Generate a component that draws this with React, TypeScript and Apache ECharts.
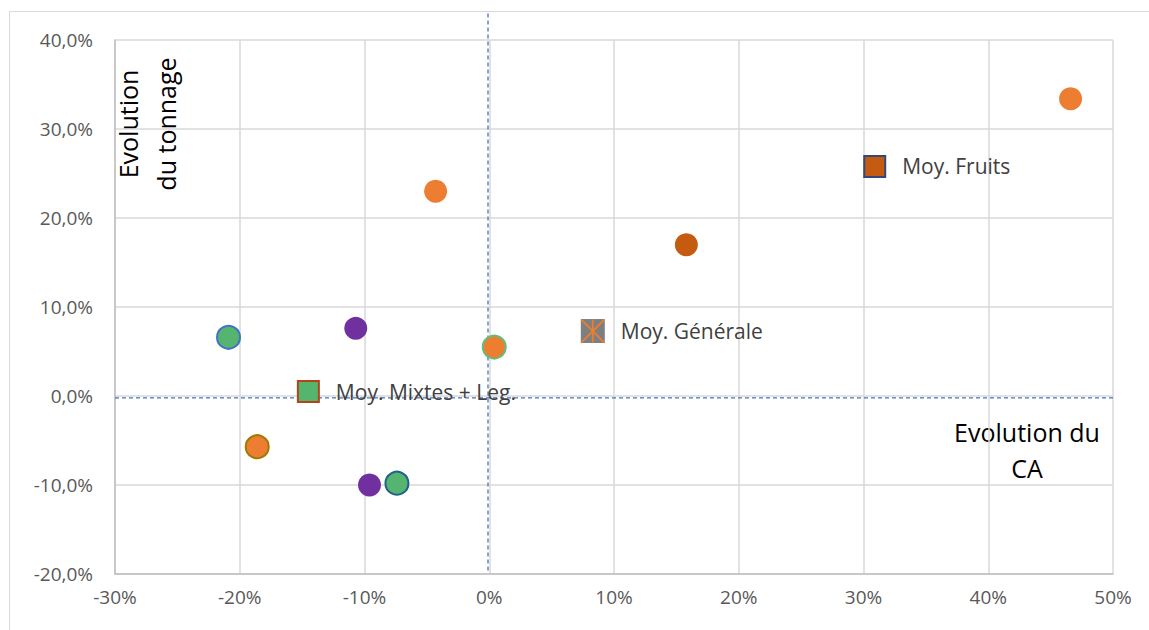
import React, { useEffect, useRef } from "react";
import * as echarts from "echarts";

// ---- Data ----
const xTickLabels = ["-30%", "-20%", "-10%", "0%", "10%", "20%", "30%", "40%", "50%"];
const yTickLabels = ["-20,0%", "-10,0%", "0,0%", "10,0%", "20,0%", "30,0%", "40,0%"];

// Individual points: évolution du CA (x) / évolution du tonnage (y), in %
const pointCA = [-20.9, -10.7, 0.4, -18.6, -9.6, -7.4, -4.3, 15.8, 46.6];
const pointTonnage = [6.6, 7.6, 5.5, -5.7, -10.0, -9.8, 23.0, 17.0, 33.4];

// Averages
const averageNames = ["Moy. Mixtes + Leg.", "Moy. Générale", "Moy. Fruits"];
const averageCA = [-14.5, 8.3, 30.9];
const averageTonnage = [0.5, 7.3, 25.8];

// Reference cross lines
const refLineCA = -0.1;
const refLineTonnage = -0.2;
const verticalRefRange = [-19.6, 43.1];
const horizontalRefRange = [-30, 50.3];

// ---- Styles (kept apart from data) ----
const GREEN = "#55B46E";
const PURPLE = "#7030A0";
const ORANGE = "#ED7D31";
const DARK_ORANGE = "#C55A11";
const pointFill = [GREEN, PURPLE, ORANGE, ORANGE, PURPLE, GREEN, ORANGE, DARK_ORANGE, ORANGE];
const pointBorder = ["#4472C4", null, "#62BE7C", "#A07A00", null, "#22608F", null, null, null];
const averageStyles = [
  { symbol: "rect", size: 21, fill: GREEN, border: "#B5441A" },
  { symbol: "rect", size: 24, fill: "#7F7F7F", border: null },
  { symbol: "rect", size: 21, fill: DARK_ORANGE, border: "#2F4A7A" },
];

const FONT = "'Open Sans', 'Liberation Sans', sans-serif";

export default function App() {
  const ref = useRef<HTMLDivElement>(null);

  useEffect(() => {
    if (!ref.current) return;
    const chart = echarts.init(ref.current, null, { renderer: "svg" });

    const pointData = pointCA.map((x, i) => ({
      value: [x, pointTonnage[i]],
      itemStyle: {
        color: pointFill[i],
        borderColor: pointBorder[i] || pointFill[i],
        borderWidth: pointBorder[i] ? 2 : 0,
        opacity: 1,
      },
    }));

    const averageData = averageCA.map((x, i) => ({
      value: [x, averageTonnage[i]],
      name: averageNames[i],
      symbol: averageStyles[i].symbol,
      symbolSize: averageStyles[i].size,
      itemStyle: {
        color: averageStyles[i].fill,
        borderColor: averageStyles[i].border || averageStyles[i].fill,
        borderWidth: averageStyles[i].border ? 2 : 0,
        opacity: 1,
      },
    }));

    chart.setOption({
      animation: false,
      backgroundColor: "#ffffff",
      grid: { left: 115, right: 36, top: 40, bottom: 56, containLabel: false },
      xAxis: {
        type: "value",
        min: -30,
        max: 50,
        interval: 10,
        axisLine: { show: true, onZero: false, lineStyle: { color: "#BFBFBF", width: 1.5 } },
        axisTick: { show: false },
        splitLine: { show: true, lineStyle: { color: "#D9D9D9", width: 1.5 } },
        axisLabel: {
          margin: 13,
          color: "#595959",
          fontSize: 19,
          fontFamily: FONT,
          formatter: (v: number) => xTickLabels[Math.round((v + 30) / 10)],
        },
      },
      yAxis: {
        type: "value",
        min: -20,
        max: 40,
        interval: 10,
        axisLine: { show: true, onZero: false, lineStyle: { color: "#BFBFBF", width: 1.5 } },
        axisTick: { show: false },
        splitLine: { show: true, lineStyle: { color: "#D9D9D9", width: 1.5 } },
        axisLabel: {
          margin: 22,
          color: "#595959",
          fontSize: 19,
          fontFamily: FONT,
          formatter: (v: number) => yTickLabels[Math.round((v + 20) / 10)],
        },
      },
      graphic: [
        {
          type: "rect",
          silent: true,
          z: -100,
          shape: { x: 9.5, y: 11.5, width: 1400, height: 900 },
          style: { fill: "none", stroke: "#D9D9D9", lineWidth: 1 },
        },
        {
          type: "text",
          silent: true,
          x: 147,
          y: 124,
          rotation: Math.PI / 2,
          style: {
            text: "Evolution\ndu tonnage",
            fill: "#000000",
            fontSize: 25,
            fontFamily: FONT,
            align: "center",
            verticalAlign: "middle",
            lineHeight: 38,
          },
        },
        {
          type: "text",
          silent: true,
          x: 1027,
          y: 450,
          style: {
            text: "Evolution du\nCA",
            fill: "#000000",
            fontSize: 25,
            fontFamily: FONT,
            align: "center",
            verticalAlign: "middle",
            lineHeight: 36,
          },
        },
      ],
      series: [
        {
          type: "line",
          data: [
            [refLineCA, verticalRefRange[0]],
            [refLineCA, verticalRefRange[1]],
          ],
          symbol: "none",
          clip: false,
          silent: true,
          lineStyle: { color: "#4472C4", width: 1.3, type: [4, 3] },
          z: 3,
        },
        {
          type: "line",
          data: [
            [horizontalRefRange[0], refLineTonnage],
            [horizontalRefRange[1], refLineTonnage],
          ],
          symbol: "none",
          clip: false,
          silent: true,
          lineStyle: { color: "#4472C4", width: 1.3, type: [4, 3] },
          z: 3,
        },
        {
          type: "scatter",
          data: pointData,
          symbol: "circle",
          symbolSize: 23,
          z: 5,
        },
        {
          type: "scatter",
          data: averageData,
          z: 5,
          label: {
            show: true,
            position: "right",
            distance: 16,
            formatter: (p: any) => p.name,
            color: "#404040",
            fontSize: 21,
            fontFamily: FONT,
          },
        },
        {
          type: "scatter",
          data: [[averageCA[1], averageTonnage[1]]],
          symbol: "path://M0,0L10,10M10,0L0,10M5,0L5,10",
          symbolSize: 23,
          z: 6,
          itemStyle: { color: "rgba(0,0,0,0)", borderColor: ORANGE, borderWidth: 1.8, opacity: 1 },
        },
      ],
    });

    return () => chart.dispose();
  }, []);

  return (
    <div
      ref={ref}
      style={{ position: "absolute", left: 0, top: 0, width: 1149, height: 630, background: "#ffffff" }}
    />
  );
}
